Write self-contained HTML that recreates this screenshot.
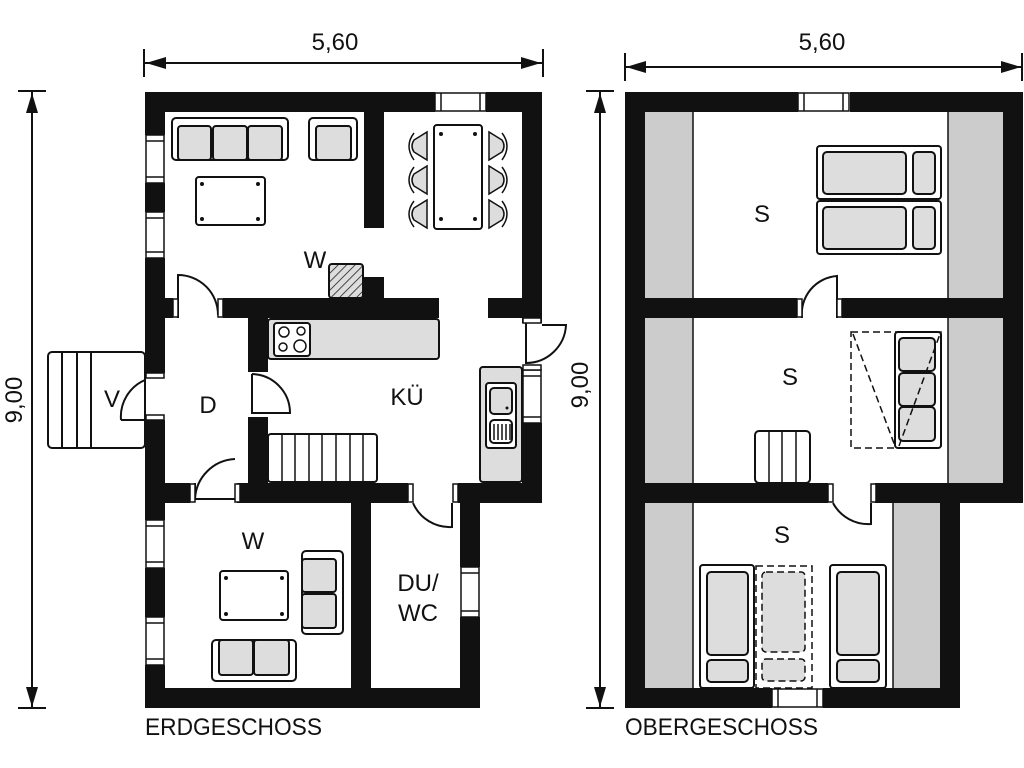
<!DOCTYPE html>
<html><head><meta charset="utf-8"><style>
html,body{margin:0;padding:0;background:#fff;}
svg{display:block;}
text{font-family:"Liberation Sans",sans-serif;fill:#111;}
</style></head><body>
<svg width="1024" height="768" viewBox="0 0 1024 768" xmlns="http://www.w3.org/2000/svg">
<defs>
<pattern id="hatch" width="6" height="6" patternUnits="userSpaceOnUse" patternTransform="rotate(45)">
<rect width="6" height="6" fill="#ddd"/><line x1="0" y1="0" x2="0" y2="6" stroke="#111" stroke-width="1.5"/>
</pattern>
</defs>
<g fill="none" stroke="#111" stroke-width="2">
<line x1="145" y1="63" x2="542" y2="63"/>
<line x1="144" y1="49" x2="144" y2="77"/><line x1="543" y1="49" x2="543" y2="77"/>
<line x1="625" y1="67" x2="1023" y2="67"/>
<line x1="625" y1="53" x2="625" y2="81"/><line x1="1022" y1="53" x2="1022" y2="81"/>
<line x1="32" y1="92" x2="32" y2="708"/>
<line x1="18" y1="91" x2="46" y2="91"/><line x1="18" y1="708" x2="46" y2="708"/>
<line x1="600" y1="92" x2="600" y2="708"/>
<line x1="586" y1="91" x2="614" y2="91"/><line x1="586" y1="708" x2="614" y2="708"/>
</g>
<g fill="#111">
<polygon points="146,63 166,57 166,69"/><polygon points="541,63 521,57 521,69"/>
<polygon points="626,67 646,61 646,73"/><polygon points="1021,67 1001,61 1001,73"/>
<polygon points="32,93 26,113 38,113"/><polygon points="32,707 26,687 38,687"/>
<polygon points="600,93 594,113 606,113"/><polygon points="600,707 594,687 606,687"/>
</g>
<text x="335" y="50" font-size="24" text-anchor="middle">5,60</text>
<text x="822" y="50" font-size="24" text-anchor="middle">5,60</text>
<text transform="translate(22,400) rotate(-90)" font-size="24" text-anchor="middle">9,00</text>
<text transform="translate(588,385) rotate(-90)" font-size="24" text-anchor="middle">9,00</text>

<rect x="48" y="352" width="97" height="96" rx="4" fill="#fff" stroke="#111" stroke-width="2"/>
<g stroke="#111" stroke-width="2"><line x1="62" y1="352" x2="62" y2="448"/><line x1="77" y1="352" x2="77" y2="448"/><line x1="91" y1="352" x2="91" y2="448"/></g>
<g fill="#111">
<rect x="145" y="92" width="290" height="20"/><rect x="486" y="92" width="56" height="20"/>
<rect x="145" y="92" width="20" height="43"/><rect x="145" y="183" width="20" height="29"/><rect x="145" y="258" width="20" height="115"/>
<rect x="145" y="420" width="20" height="100"/><rect x="145" y="568" width="20" height="49"/><rect x="145" y="665" width="20" height="43"/>
<rect x="145" y="688" width="335" height="20"/>
<rect x="522" y="92" width="20" height="231"/><rect x="522" y="423" width="20" height="80"/>
<rect x="364" y="112" width="20" height="116"/>
<rect x="165" y="298" width="8" height="20"/><rect x="223" y="298" width="216" height="20"/><rect x="488" y="298" width="34" height="20"/>
<rect x="363" y="277" width="21" height="21"/>
<rect x="248" y="318" width="20" height="54"/><rect x="248" y="417" width="20" height="86"/>
<rect x="165" y="483" width="25" height="20"/><rect x="237" y="483" width="171" height="20"/><rect x="458" y="483" width="84" height="20"/>
<rect x="351" y="503" width="20" height="185"/>
<rect x="460" y="503" width="20" height="64"/><rect x="460" y="617" width="20" height="91"/>
</g>
<rect x="329" y="264" width="34" height="34" rx="3" fill="url(#hatch)" stroke="#111" stroke-width="2"/>
<g fill="#fff" stroke="#111" stroke-width="1.5">
<rect x="435" y="93" width="51" height="18"/><line x1="441" y1="93" x2="441" y2="111"/><line x1="480" y1="93" x2="480" y2="111"/>
<rect x="146" y="135" width="18" height="48"/><line x1="146" y1="141" x2="164" y2="141"/><line x1="146" y1="177" x2="164" y2="177"/>
<rect x="146" y="212" width="18" height="46"/><line x1="146" y1="218" x2="164" y2="218"/><line x1="146" y1="252" x2="164" y2="252"/>
<rect x="146" y="520" width="18" height="48"/><line x1="146" y1="526" x2="164" y2="526"/><line x1="146" y1="562" x2="164" y2="562"/>
<rect x="146" y="617" width="18" height="48"/><line x1="146" y1="623" x2="164" y2="623"/><line x1="146" y1="659" x2="164" y2="659"/>
<rect x="523" y="370" width="18" height="53"/><line x1="523" y1="376" x2="541" y2="376"/><line x1="523" y1="417" x2="541" y2="417"/>
<rect x="461" y="567" width="18" height="50"/><line x1="461" y1="573" x2="479" y2="573"/><line x1="461" y1="611" x2="479" y2="611"/>
</g>
<g fill="none" stroke="#111" stroke-width="2">
<path d="M178,318 L178,275 A40,40 0 0 1 218,315"/>
<rect x="173" y="299" width="5" height="18" fill="#fff" stroke-width="1.5"/><rect x="218" y="299" width="5" height="18" fill="#fff" stroke-width="1.5"/>
<path d="M121,420 L145,420 M121,420 A40,40 0 0 1 145,380"/>
<rect x="146" y="373" width="18" height="5" fill="#fff" stroke-width="1.5"/><rect x="146" y="415" width="18" height="5" fill="#fff" stroke-width="1.5"/>
<path d="M252,374 L252,413 L290,413 A39,39 0 0 0 252,374"/>
<path d="M195,483 L195,499 M195,499 L235,499 M195,499 A42,42 0 0 1 235,459"/>
<rect x="190" y="484" width="5" height="18" fill="#fff" stroke-width="1.5"/><rect x="235" y="484" width="5" height="18" fill="#fff" stroke-width="1.5"/>
<path d="M413,503 A40,40 0 0 0 452,527 L452,503"/>
<rect x="408" y="484" width="5" height="18" fill="#fff" stroke-width="1.5"/><rect x="453" y="484" width="5" height="18" fill="#fff" stroke-width="1.5"/>
<path d="M526,323 L526,363 A40,40 0 0 0 566,325 L542,325"/>
<rect x="523" y="318" width="18" height="5" fill="#fff" stroke-width="1.5"/><rect x="523" y="365" width="18" height="5" fill="#fff" stroke-width="1.5"/>
</g>
<g stroke="#111" stroke-width="2">
<rect x="172" y="118" width="116" height="42" rx="4" fill="#fff"/>
<rect x="178" y="126" width="33" height="34" rx="3" fill="#ddd"/><rect x="213" y="126" width="34" height="34" rx="3" fill="#ddd"/><rect x="248" y="126" width="34" height="34" rx="3" fill="#ddd"/>
<rect x="309" y="118" width="48" height="42" rx="4" fill="#fff"/><rect x="316" y="126" width="35" height="34" rx="3" fill="#ddd"/>
<rect x="196" y="177" width="69" height="48" rx="3" fill="#fff"/>
<rect x="434" y="125" width="48" height="104" rx="3" fill="#fff"/>
<rect x="268" y="319" width="171" height="40" rx="3" fill="#ddd"/>
<rect x="274" y="323" width="36" height="33" rx="3" fill="#fff"/>
<rect x="480" y="367" width="42" height="115" rx="3" fill="#ddd"/>
<rect x="486" y="383" width="30" height="65" rx="3" fill="#fff"/>
<rect x="490" y="388" width="22" height="26" rx="4" fill="#ddd"/>
<rect x="490" y="420" width="22" height="23" rx="4" fill="#fff"/>
<rect x="268" y="434" width="109" height="48" rx="3" fill="#fff"/>
<rect x="220" y="571" width="68" height="49" rx="3" fill="#fff"/>
<rect x="302" y="551" width="41" height="83" rx="4" fill="#fff"/>
<rect x="302" y="559" width="34" height="33" rx="3" fill="#ddd"/><rect x="302" y="594" width="34" height="34" rx="3" fill="#ddd"/>
<rect x="212" y="640" width="84" height="41" rx="4" fill="#fff"/>
<rect x="219" y="640" width="34" height="35" rx="3" fill="#ddd"/><rect x="254" y="640" width="35" height="35" rx="3" fill="#ddd"/>
</g>
<g fill="#fff" stroke="#111" stroke-width="1.5">
<circle cx="284" cy="332" r="5"/><circle cx="301" cy="331" r="4"/><circle cx="283" cy="347" r="4"/><circle cx="300" cy="346" r="6"/>
</g>
<g stroke="#111" stroke-width="1.5">
<line x1="494" y1="424" x2="494" y2="440"/><line x1="498" y1="424" x2="498" y2="440"/><line x1="502" y1="424" x2="502" y2="440"/><line x1="506" y1="424" x2="506" y2="440"/><line x1="510" y1="424" x2="510" y2="440"/>
<line x1="282" y1="434" x2="282" y2="482"/><line x1="295" y1="434" x2="295" y2="482"/><line x1="309" y1="434" x2="309" y2="482"/><line x1="322" y1="434" x2="322" y2="482"/><line x1="336" y1="434" x2="336" y2="482"/><line x1="350" y1="434" x2="350" y2="482"/><line x1="363" y1="434" x2="363" y2="482"/>
</g>
<g fill="#111">
<circle cx="202" cy="184" r="2"/><circle cx="258" cy="184" r="2"/><circle cx="202" cy="219" r="2"/><circle cx="258" cy="219" r="2"/>
<circle cx="441" cy="134" r="2"/><circle cx="475" cy="134" r="2"/><circle cx="441" cy="219" r="2"/><circle cx="475" cy="219" r="2"/>
<circle cx="226" cy="578" r="2"/><circle cx="282" cy="578" r="2"/><circle cx="226" cy="614" r="2"/><circle cx="282" cy="614" r="2"/>
<circle cx="507" cy="408" r="1.5"/>
</g>
<g stroke="#111" stroke-width="1.5" fill="#ddd">
<path d="M427,132 L427,160 L414,152 Q410,146 414,140 Z"/><path d="M427,166 L427,194 L414,186 Q410,180 414,174 Z"/><path d="M427,200 L427,228 L414,220 Q410,214 414,208 Z"/>
<path d="M489,132 L489,160 L502,152 Q506,146 502,140 Z"/><path d="M489,166 L489,194 L502,186 Q506,180 502,174 Z"/><path d="M489,200 L489,228 L502,220 Q506,214 502,208 Z"/>
</g>
<g stroke="#111" stroke-width="1.5" fill="none">
<path d="M414,133 Q404,146 414,160"/><path d="M414,167 Q404,180 414,193"/><path d="M414,201 Q404,214 414,227"/>
<path d="M502,133 Q512,146 502,160"/><path d="M502,167 Q512,180 502,193"/><path d="M502,201 Q512,214 502,227"/>
</g>
<g font-size="24" text-anchor="middle">
<text x="315" y="268">W</text><text x="208" y="413">D</text><text x="407" y="405">KÜ</text><text x="112" y="407">V</text>
<text x="253" y="549">W</text><text x="418" y="591">DU/</text><text x="418" y="621">WC</text>
</g>
<text x="145" y="735" font-size="24" textLength="177" lengthAdjust="spacingAndGlyphs">ERDGESCHOSS</text>

<g fill="#ccc">
<rect x="645" y="112" width="48" height="186"/><rect x="645" y="318" width="48" height="165"/><rect x="645" y="503" width="48" height="185"/>
<rect x="948" y="112" width="55" height="186"/><rect x="948" y="318" width="55" height="165"/><rect x="893" y="503" width="47" height="185"/>
</g>
<g stroke="#111" stroke-width="1.5">
<line x1="693" y1="112" x2="693" y2="298"/><line x1="693" y1="318" x2="693" y2="483"/><line x1="693" y1="503" x2="693" y2="688"/>
<line x1="948" y1="112" x2="948" y2="298"/><line x1="948" y1="318" x2="948" y2="483"/><line x1="893" y1="503" x2="893" y2="688"/>
</g>
<g fill="#111">
<rect x="625" y="92" width="173" height="20"/><rect x="850" y="92" width="173" height="20"/>
<rect x="625" y="92" width="20" height="616"/>
<rect x="1003" y="92" width="20" height="411"/>
<rect x="645" y="298" width="152" height="20"/><rect x="842" y="298" width="161" height="20"/>
<rect x="645" y="483" width="183" height="20"/><rect x="875" y="483" width="148" height="20"/>
<rect x="940" y="503" width="20" height="205"/>
<rect x="625" y="688" width="147" height="20"/><rect x="823" y="688" width="137" height="20"/>
</g>
<g fill="#fff" stroke="#111" stroke-width="1.5">
<rect x="798" y="93" width="51" height="18"/><line x1="804" y1="93" x2="804" y2="111"/><line x1="843" y1="93" x2="843" y2="111"/>
<rect x="772" y="689" width="51" height="18"/><line x1="778" y1="689" x2="778" y2="707"/><line x1="817" y1="689" x2="817" y2="707"/>
</g>
<g fill="none" stroke="#111" stroke-width="2">
<path d="M802,318 A38,38 0 0 1 837,276 L837,318"/>
<rect x="797" y="299" width="5" height="18" fill="#fff" stroke-width="1.5"/><rect x="837" y="299" width="5" height="18" fill="#fff" stroke-width="1.5"/>
<path d="M833,503 A40,40 0 0 0 871,524 L871,503"/>
<rect x="828" y="484" width="5" height="18" fill="#fff" stroke-width="1.5"/><rect x="871" y="484" width="5" height="18" fill="#fff" stroke-width="1.5"/>
</g>
<g stroke="#111" stroke-width="2">
<rect x="817" y="146" width="124" height="53" rx="3" fill="#fff"/><rect x="817" y="201" width="124" height="53" rx="3" fill="#fff"/>
<rect x="823" y="152" width="83" height="42" rx="4" fill="#ddd"/><rect x="913" y="152" width="22" height="42" rx="4" fill="#ddd"/>
<rect x="823" y="207" width="83" height="42" rx="4" fill="#ddd"/><rect x="913" y="207" width="22" height="42" rx="4" fill="#ddd"/>
<rect x="895" y="332" width="46" height="116" rx="3" fill="#fff"/>
<rect x="899" y="338" width="36" height="33" rx="4" fill="#ddd"/><rect x="899" y="373" width="36" height="33" rx="4" fill="#ddd"/><rect x="899" y="407" width="36" height="34" rx="4" fill="#ddd"/>
<rect x="755" y="431" width="55" height="52" rx="4" fill="#fff"/>
<rect x="700" y="565" width="54" height="123" rx="3" fill="#fff"/>
<rect x="707" y="572" width="41" height="83" rx="4" fill="#ddd"/><rect x="707" y="660" width="41" height="22" rx="4" fill="#ddd"/>
<rect x="830" y="565" width="56" height="123" rx="3" fill="#fff"/>
<rect x="837" y="572" width="42" height="83" rx="4" fill="#ddd"/><rect x="837" y="660" width="42" height="22" rx="4" fill="#ddd"/>
</g>
<g stroke="#111" stroke-width="1.5"><line x1="769" y1="431" x2="769" y2="483"/><line x1="782" y1="431" x2="782" y2="483"/><line x1="796" y1="431" x2="796" y2="483"/></g>
<g fill="none" stroke="#111" stroke-width="1.5" stroke-dasharray="7,4">
<rect x="851" y="332" width="90" height="116"/>
<path d="M853,334 L895,446"/><path d="M899,446 L940,334"/>
<rect x="756" y="566" width="56" height="122"/>
</g>
<g fill="#ddd" stroke="#111" stroke-width="1.5" stroke-dasharray="7,4">
<rect x="762" y="572" width="43" height="80" rx="4"/><rect x="762" y="659" width="43" height="22" rx="4"/>
</g>
<g font-size="24" text-anchor="middle">
<text x="762" y="222">S</text><text x="790" y="385">S</text><text x="782" y="543">S</text>
</g>
<text x="625" y="735" font-size="24" textLength="193" lengthAdjust="spacingAndGlyphs">OBERGESCHOSS</text>
</svg>
</body></html>
